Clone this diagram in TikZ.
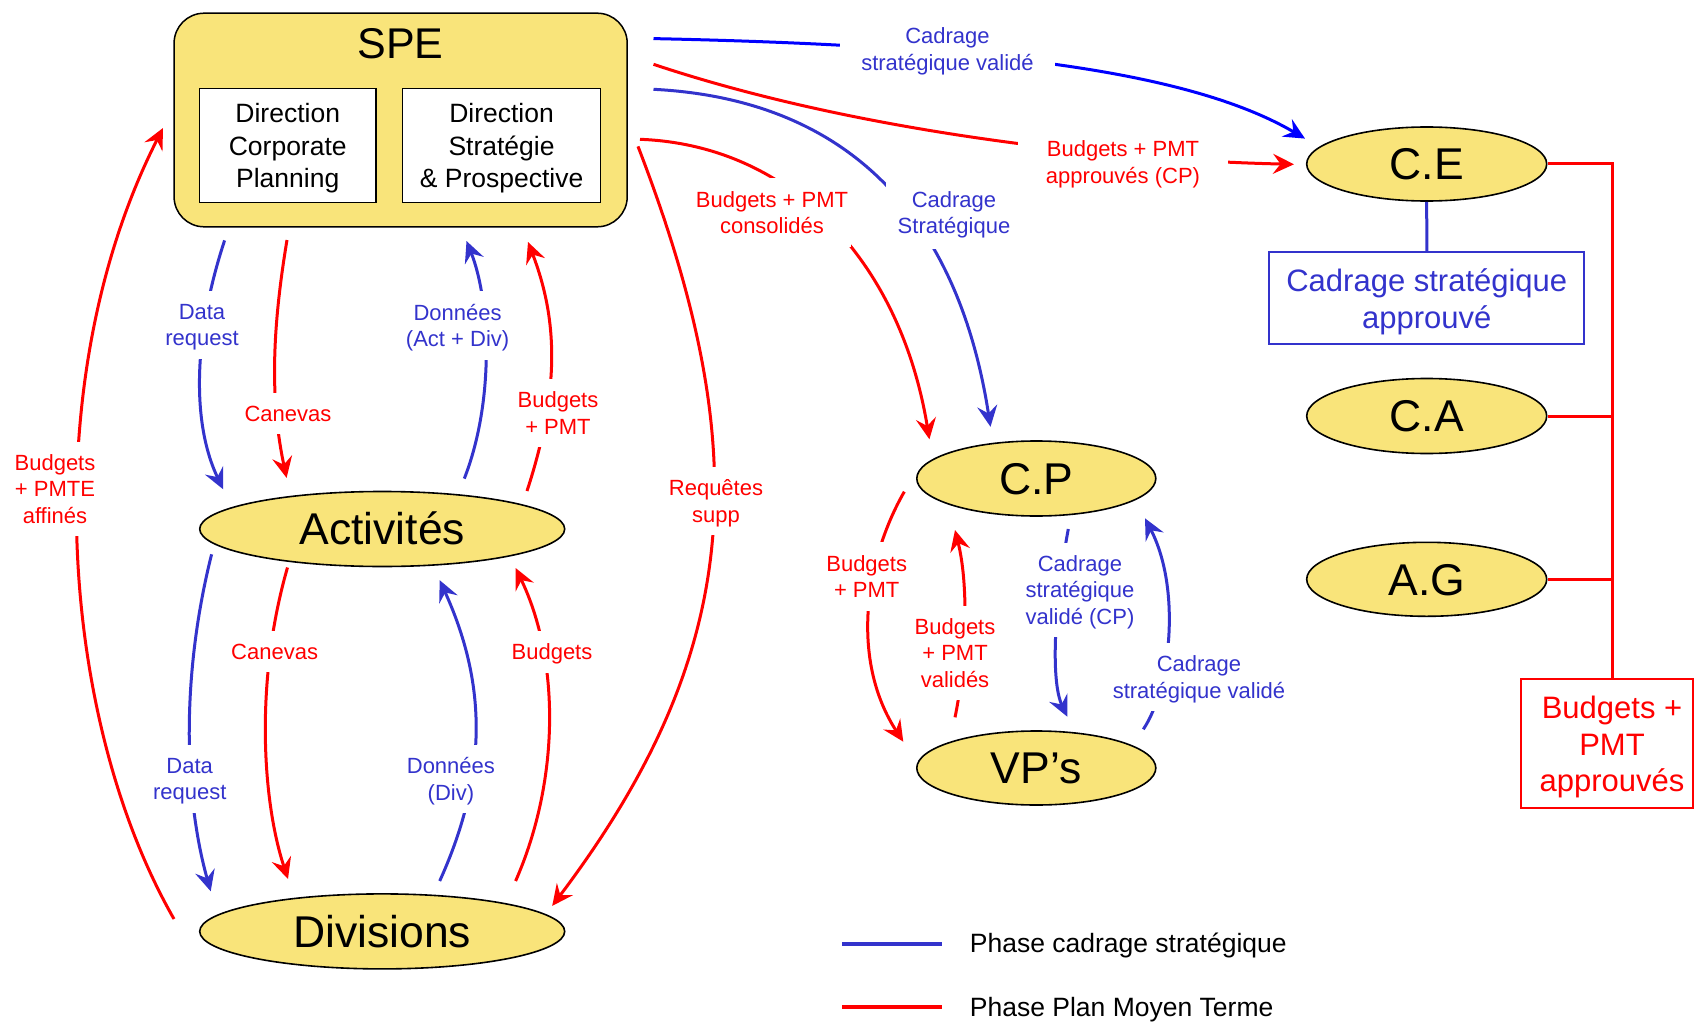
\documentclass[tikz,border=0pt]{standalone}
\usepackage{fontspec}
\setmainfont{Liberation Sans}
\usetikzlibrary{shapes.geometric,arrows.meta,calc}
\definecolor{yel}{RGB}{249,228,122}
\definecolor{lblue}{RGB}{51,51,204}
\definecolor{pblue}{RGB}{0,0,255}
\definecolor{pred}{RGB}{255,0,0}
\begin{document}
\begin{tikzpicture}[x=1pt,y=-1pt,
  ell/.style={ellipse,draw=black,line width=1.6pt,fill=yel,inner sep=0pt,
    font=\fontsize{44.5}{50}\selectfont,text height=31.9pt,text depth=0pt},
  lab/.style={fill=white,inner xsep=3pt,inner ysep=13pt,align=center,
    font=\fontsize{22}{26.5}\selectfont,text depth=0pt},
  rlab/.style={lab,text=pred},
  blab/.style={lab,text=lblue},
  tipstyle/.style={-{Stealth[length=21pt,width=20pt,inset=7.5pt]}},
  rcon/.style={draw=pred,line width=3pt,tipstyle},
  bcon/.style={draw=lblue,line width=3pt,tipstyle},
  inbox/.style={draw=black,line width=1.5pt,fill=white,align=center,inner sep=0pt,
    font=\fontsize{26.5}{32.5}\selectfont,text depth=0pt},
  tree/.style={draw=pred,line width=3pt}
]
\useasboundingbox (0,0) rectangle (1695,1022);

% ---------- nodes ----------
\node[draw=black,line width=1.5pt,fill=yel,rounded corners=30pt,
  minimum width=453.1pt,minimum height=213.6pt] (spe) at (400.65,120) {};
\node[font=\fontsize{43}{48}\selectfont,text height=30.8pt,text depth=0pt,inner sep=0pt]
  (spet) at (400.65,42.8) {SPE};
\node[inbox,minimum width=176.3pt,minimum height=113.9pt] (dcp) at (287.75,145.55)
  {Direction\\Corporate\\Planning};
\node[inbox,minimum width=197.7pt,minimum height=113.9pt] (dsp) at (501.55,145.55)
  {Direction\\Stratégie\\\& Prospective};

\node[ell,minimum width=365pt,minimum height=75pt] (act) at (382.2,529) {Activités};
\node[ell,minimum width=365pt,minimum height=75pt] (div) at (382.2,931.4) {Divisions};
\node[ell,minimum width=239pt,minimum height=75pt] (cp) at (1036.3,478.5) {C.P};
\node[ell,minimum width=239pt,minimum height=74pt] (vp) at (1036.3,768) {VP’s};
\node[ell,minimum width=240pt,minimum height=74pt] (ce) at (1426.7,164) {C.E};
\node[ell,minimum width=240pt,minimum height=75pt] (ca) at (1426.7,416) {C.A};
\node[ell,minimum width=240pt,minimum height=74pt] (ag) at (1426.7,579.3) {A.G};

\node[draw=lblue,line width=2pt,text=lblue,align=center,minimum width=315pt,
  minimum height=92pt,inner sep=0pt,font=\fontsize{31}{37}\selectfont,text depth=0pt]
  (csa) at (1426.8,298.4) {Cadrage stratégique\\approuvé};
\node[draw=pred,line width=2pt,text=pred,align=center,minimum width=172pt,
  minimum height=129pt,inner sep=0pt,font=\fontsize{31}{36.5}\selectfont,text depth=0pt]
  (bpa) at (1607,743.9) {\hspace*{10pt}Budgets +\\\hspace*{10pt}PMT\\\hspace*{10pt}approuvés};

% ---------- right tree ----------
\coordinate (tt) at (1612.7,164);
\draw[tree] (ce.east) -- (tt) -- (tt |- bpa.north);
\draw[tree] (ca.east) -- (ca.east -| tt);
\draw[tree] (ag.east) -- (ag.east -| tt);
\draw[draw=lblue,line width=3pt] (ce.south) -- (csa.north);

% ---------- connectors ----------
% SPE <-> Activites
\draw[bcon] ($(spe)+(-176.05,120.4)$) .. controls (195,330) and (190,420) .. ($(act)+(-159,-39.7)$);
\draw[rcon] ($(spe)+(-113.65,120)$) .. controls (272,330) and (270,400) .. ($(act)+(-95.6,-51.1)$);
\draw[bcon] ($(act)+(82.1,-50.4)$) .. controls (495,400) and (490,300) .. ($(spe)+(65.85,121)$);
\draw[rcon] ($(act)+(144.8,-38)$) .. controls (560,390) and (558,320) .. ($(spe)+(127.35,122)$);
% Divisions -> SPE (far left)
\draw[rcon] ($(div)+(-208.2,-12.4)$) .. controls (60,720) and (35,380) .. ($(spe)+(-237.65,8)$);
% Activites <-> Divisions
\draw[bcon] ($(act)+(-170.6,25.3)$) .. controls (180,680) and (185,800) .. ($(div)+(-171.5,-40.1)$);
\draw[rcon] ($(act)+(-94.7,38.5)$) .. controls (255,680) and (262,800) .. ($(div)+(-94.2,-52.4)$);
\draw[bcon] ($(div)+(57.5,-50.4)$) .. controls (490,770) and (485,680) .. ($(act)+(57.5,51.2)$);
\draw[rcon] ($(div)+(133.4,-50.4)$) .. controls (560,780) and (560,660) .. ($(act)+(133.4,39)$);
% SPE -> Divisions (Requetes supp)
\draw[rcon] ($(spe)+(237.35,26.4)$) .. controls (755,450) and (745,650) .. ($(div)+(170,-25.5)$);
% SPE -> C.E
\draw[draw=pblue,line width=3pt,tipstyle] ($(spe)+(252.85,-81.4)$) .. controls (950,45) and (1180,65) .. ($(ce)+(-121.7,-25.4)$);
\draw[rcon] ($(spe)+(252.85,-55.7)$) .. controls (850,130) and (1100,160) .. ($(ce)+(-132.7,0.3)$);
% SPE -> C.P
\draw[bcon] ($(spe)+(252.85,-30.7)$) .. controls (860,100) and (960,230) .. ($(cp)+(-45.8,-51.7)$);
\draw[rcon] ($(spe)+(239.35,19.3)$) .. controls (790,145) and (900,260) .. ($(cp)+(-106.9,-39.2)$);
% C.P <-> VP's
\draw[rcon] ($(cp)+(-132,13.2)$) .. controls (865,560) and (850,660) .. ($(vp)+(-133,-26.3)$);
\draw[rcon] ($(vp)+(-81.3,-50.7)$) .. controls (965,670) and (970,590) .. ($(cp)+(-81.3,51.5)$);
\draw[bcon] ($(cp)+(32,50.5)$) .. controls (1055,600) and (1050,680) .. ($(vp)+(31,-51.3)$);
\draw[bcon] ($(vp)+(107,-38.7)$) .. controls (1170,690) and (1182,590) .. ($(cp)+(108.7,39.8)$);

% ---------- labels ----------
\node[blab] (l1) at (202,325) {Data\\request};
\node[rlab] (l2) at (288,413.6) {Canevas};
\node[blab] (l3) at (457.6,325.5) {Données\\(Act + Div)};
\node[rlab] (l4) at (558,413) {Budgets\\+ PMT};
\node[rlab] (l5) at (55,489) {Budgets\\+ PMTE\\affinés};
\node[blab] (l6) at (189.7,779) {Data\\request};
\node[rlab] (l7) at (274.6,651.8) {Canevas};
\node[blab] (l8) at (450.9,779) {Données\\(Div)};
\node[rlab] (l9) at (552,651.8) {Budgets};
\node[rlab] (l10) at (716,501) {Requêtes\\supp};
\node[blab,inner xsep=21pt] (l11) at (947.5,49) {Cadrage\\stratégique validé};
\node[rlab,inner xsep=28pt,inner ysep=8pt] (l12) at (1123,162) {Budgets + PMT\\approuvés (CP)};
\node[blab,inner xsep=12pt,inner ysep=15pt] (l13) at (954,212.5) {Cadrage\\Stratégique};
\node[rlab] (l14) at (772,212.5) {Budgets + PMT\\consolidés};
\node[rlab] (l15) at (866.7,576.7) {Budgets\\+ PMT};
\node[rlab] (l16) at (955,653) {Budgets\\+ PMT\\validés};
\node[blab] (l17) at (1080,590) {Cadrage\\stratégique\\validé (CP)};
\node[blab] (l18) at (1199,677) {Cadrage\\stratégique validé};

% ---------- legend ----------
\coordinate (lb1) at (842,943.5);
\coordinate (lb2) at (942,943.5);
\coordinate (lr1) at (842,1006.7);
\coordinate (lr2) at (942,1006.7);
\draw[lblue,line width=4pt] (lb1) -- (lb2);
\draw[pred,line width=4pt] (lr1) -- (lr2);
\node[anchor=base west,inner sep=0pt,font=\fontsize{26.5}{30}\selectfont] (leg1) at (969.7,952.7) {Phase cadrage stratégique};
\node[anchor=base west,inner sep=0pt,font=\fontsize{26.5}{30}\selectfont] (leg2) at (969.7,1016) {Phase Plan Moyen Terme};
\end{tikzpicture}
\end{document}
